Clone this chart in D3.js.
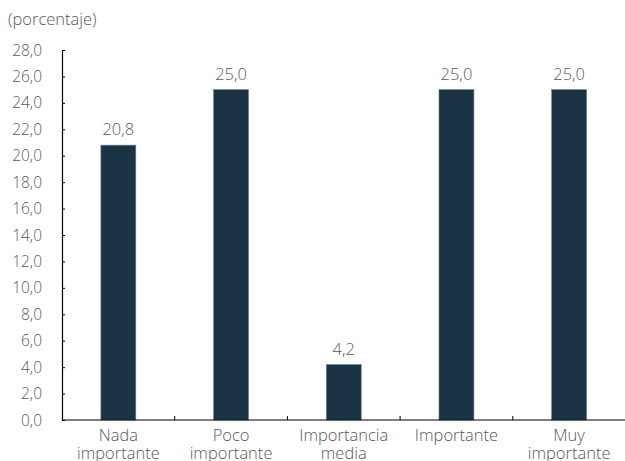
<!DOCTYPE html>
<html>
<head>
<meta charset="utf-8">
<script src="https://cdn.jsdelivr.net/npm/d3@7"></script>
<style>
body { margin: 0; background: #fff; }
text { font-family: "Open Sans", sans-serif; font-weight: 300; fill: #595959; }
</style>
</head>
<body>
<div id="chart"></div>
<script>
// categorias y valores (porcentaje)
var categorias = [["Nada", "importante"], ["Poco", "importante"], ["Importancia", "media"], ["Importante"], ["Muy", "importante"]];
var valores = [20.8, 25.0, 4.2, 25.0, 25.0];
var yTicks = [0, 2, 4, 6, 8, 10, 12, 14, 16, 18, 20, 22, 24, 26, 28];

var width = 625, height = 461;
var margin = {top: 50, right: 0, bottom: 41, left: 62};

var svg = d3.select("#chart").append("svg")
    .attr("width", width)
    .attr("height", height);

var fmt = function(v) { return v.toFixed(1).replace(".", ","); };

var x = d3.scaleBand()
    .domain(d3.range(valores.length))
    .range([margin.left, 625.5])
    .paddingInner(0.69)
    .paddingOuter(0.345);

var y = d3.scaleLinear()
    .domain([0, 28])
    .range([height - margin.bottom, margin.top]);

// titulo eje
svg.append("text")
    .attr("x", 8)
    .attr("y", 25)
    .attr("font-size", "16.5px")
    .text("(porcentaje)");

// barras
svg.selectAll("rect.bar")
    .data(valores)
    .enter()
    .append("rect")
    .attr("class", "bar")
    .attr("x", function(d, i) { return x(i); })
    .attr("y", function(d) { return y(d); })
    .attr("width", x.bandwidth())
    .attr("height", function(d) { return y(0) - y(d); })
    .style("fill", "#1a3445")
    .style("stroke", "#6d7f8a")
    .style("stroke-width", 0.6);

// etiquetas de valor
svg.selectAll("text.val")
    .data(valores)
    .enter()
    .append("text")
    .attr("class", "val")
    .attr("x", function(d, i) { return x(i) + x.bandwidth() / 2; })
    .attr("y", function(d) { return y(d) - 10; })
    .attr("text-anchor", "middle")
    .attr("font-size", "16.5px")
    .text(fmt);

// eje y
var yAxis = svg.append("g")
    .attr("transform", "translate(" + margin.left + ",0)")
    .call(d3.axisRight(y).tickValues(yTicks).tickSize(3).tickFormat(function(d) { return ""; }));
yAxis.select(".domain").attr("stroke", "#000").attr("stroke-width", 1.2);
yAxis.selectAll(".tick line").attr("stroke", "#000");

svg.selectAll("text.ytick")
    .data(yTicks)
    .enter()
    .append("text")
    .attr("class", "ytick")
    .attr("x", 42)
    .attr("y", function(d) { return y(d) + 5.5; })
    .attr("text-anchor", "end")
    .attr("font-size", "15.5px")
    .text(fmt);

// eje x
var step = x.step();
var bordes = d3.range(1, valores.length).map(function(i) { return margin.left + i * step; });
svg.append("line")
    .attr("x1", margin.left).attr("x2", width)
    .attr("y1", y(0)).attr("y2", y(0))
    .attr("stroke", "#000")
    .attr("stroke-width", 1.2);
svg.selectAll("line.xtick")
    .data(bordes)
    .enter()
    .append("line")
    .attr("class", "xtick")
    .attr("x1", function(d) { return d; }).attr("x2", function(d) { return d; })
    .attr("y1", y(0)).attr("y2", y(0) - 4)
    .attr("stroke", "#000");

var etiquetas = svg.selectAll("text.xlab")
    .data(categorias)
    .enter()
    .append("text")
    .attr("class", "xlab")
    .attr("text-anchor", "middle")
    .attr("font-size", "16.5px");
etiquetas.each(function(d, i) {
    var t = d3.select(this);
    d.forEach(function(linea, j) {
        t.append("tspan")
            .attr("x", x(i) + x.bandwidth() / 2)
            .attr("y", 441 + j * 18)
            .text(linea);
    });
});
</script>
</body>
</html>
